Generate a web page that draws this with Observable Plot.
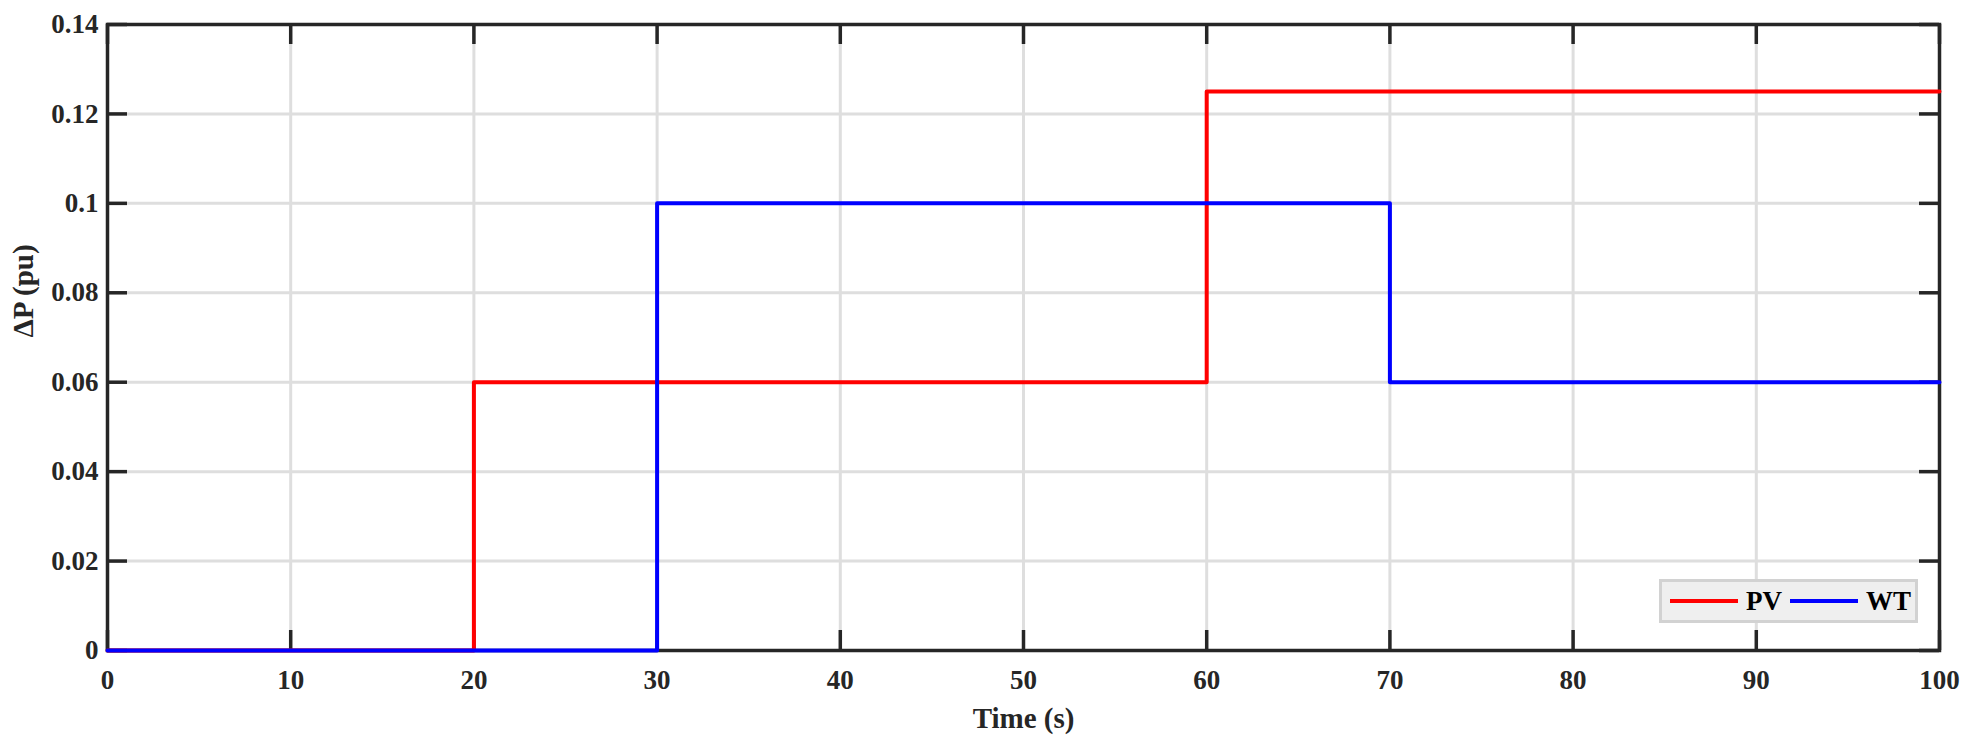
<!DOCTYPE html>
<html>
<head>
<meta charset="utf-8">
<script src="https://cdn.jsdelivr.net/npm/d3@7"></script>
<script src="https://cdn.jsdelivr.net/npm/@observablehq/plot@0.6"></script>
<style>
  html, body { margin: 0; padding: 0; background: #fff; }
  #wrap { position: relative; width: 1975px; height: 749px; }
  #legend {
    position: absolute; left: 1659px; top: 579px; width: 253px; height: 38px;
    background: #efefef; border: 3px solid #d2d2d2;
    font-family: "Liberation Serif", "Times New Roman", serif; font-weight: bold; font-size: 27px; color: #000;
    display: flex; align-items: center; box-sizing: content-box;
  }
  #legend .sw { display: inline-block; width: 68px; height: 4px; margin-left: 8px; margin-right: 8px; }
  #legend .lab { display: inline-block; }
</style>
</head>
<body>
<div id="wrap"></div>
<script>
// Data
const seriesNames = ["PV", "WT"];
const seriesColors = ["#ff0000", "#0000ff"];
const pvTime = [0, 20, 60, 100];
const pvValue = [0, 0.06, 0.125, 0.125];
const wtTime = [0, 30, 70, 100];
const wtValue = [0, 0.1, 0.06, 0.06];
const xTicks = [0, 10, 20, 30, 40, 50, 60, 70, 80, 90, 100];
const yTicks = [0, 0.02, 0.04, 0.06, 0.08, 0.1, 0.12, 0.14];
const xLabel = "Time (s)";
const yLabel = "ΔP (pu)";

const pv = pvTime.map((t, i) => ({t, v: pvValue[i], s: "PV"}));
const wt = wtTime.map((t, i) => ({t, v: wtValue[i], s: "WT"}));

const W = 1975, H = 749;
const mL = 107, mR = 36, mT = 24, mB = 99;
const innerW = W - mL - mR, innerH = H - mT - mB;
const tickLen = 20;
const dark = "#262626";
const font = "Liberation Serif, Times New Roman, serif";

const chart = Plot.plot({
  width: W, height: H,
  marginLeft: mL, marginRight: mR, marginTop: mT, marginBottom: mB,
  style: {fontFamily: font, fontWeight: "bold", fontSize: "27px", color: dark, background: "#fff"},
  x: {domain: [0, 100], ticks: xTicks},
  y: {domain: [0, 0.14], ticks: yTicks},
  marks: [
    Plot.gridX(xTicks, {stroke: "#dedede", strokeOpacity: 1, strokeWidth: 3}),
    Plot.gridY(yTicks, {stroke: "#dedede", strokeOpacity: 1, strokeWidth: 3}),
    // inward ticks on all four sides
    Plot.tickX(xTicks, {x: d => d, insetTop: innerH - tickLen, stroke: dark, strokeWidth: 3.5}),
    Plot.tickX(xTicks, {x: d => d, insetBottom: innerH - tickLen, stroke: dark, strokeWidth: 3.5}),
    Plot.tickY(yTicks, {y: d => d, insetRight: innerW - tickLen, stroke: dark, strokeWidth: 3.5}),
    Plot.tickY(yTicks, {y: d => d, insetLeft: innerW - tickLen, stroke: dark, strokeWidth: 3.5}),
    Plot.frame({stroke: dark, strokeWidth: 3.5}),
    Plot.line(pv, {x: "t", y: "v", curve: "step-after", stroke: seriesColors[0], strokeWidth: 4}),
    Plot.line(wt, {x: "t", y: "v", curve: "step-after", stroke: seriesColors[1], strokeWidth: 4}),
    Plot.axisX(xTicks, {tickSize: 0, tickPadding: 19, fill: dark, fontSize: 27, label: null}),
    Plot.axisY(yTicks, {tickSize: 0, tickPadding: 9, fill: dark, fontSize: 27, label: null,
      tickFormat: d => String(+d.toFixed(2))}),
    Plot.text([xLabel], {text: d => d, frameAnchor: "bottom", lineAnchor: "middle", dy: 68,
      fontSize: 29, fontWeight: "bold", fill: dark}),
    Plot.text([yLabel], {text: d => d, frameAnchor: "left", lineAnchor: "middle", rotate: -90, dx: -84,
      fontSize: 29, fontWeight: "bold", fill: dark})
  ]
});
const wrap = document.getElementById("wrap");
wrap.appendChild(chart);

// legend
const lg = document.createElement("div");
lg.id = "legend";
seriesNames.forEach((name, i) => {
  const sw = document.createElement("span");
  sw.className = "sw";
  sw.style.background = seriesColors[i];
  const lab = document.createElement("span");
  lab.className = "lab";
  lab.textContent = name;
  lg.appendChild(sw);
  lg.appendChild(lab);
});
wrap.appendChild(lg);
</script>
</body>
</html>
